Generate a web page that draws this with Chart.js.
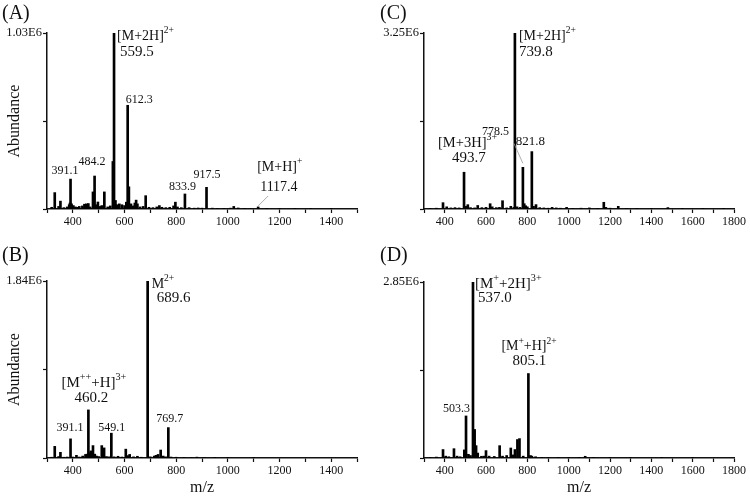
<!DOCTYPE html>
<html>
<head>
<meta charset="utf-8">
<script src="https://cdn.jsdelivr.net/npm/chart.js@4/dist/chart.umd.min.js"></script>
<style>
  body { margin: 0; background: #fff; }
  #wrap { position: relative; width: 750px; height: 500px; }
  .panel { position: absolute; width: 375px; height: 250px; }
  .tag { position: absolute; font: 20px "Liberation Serif", serif; color: #111; line-height: 20px; }
</style>
</head>
<body>
<div id="wrap">
  <div class="panel" style="left:0;top:0"><canvas id="chartA" width="375" height="250"></canvas></div>
  <div class="panel" style="left:375px;top:0"><canvas id="chartC" width="375" height="250"></canvas></div>
  <div class="panel" style="left:0;top:250px"><canvas id="chartB" width="375" height="250"></canvas></div>
  <div class="panel" style="left:375px;top:250px"><canvas id="chartD" width="375" height="250"></canvas></div>
  <div class="tag" style="left:2px;top:2px">(A)</div>
  <div class="tag" style="left:380px;top:2px">(C)</div>
  <div class="tag" style="left:2px;top:244px">(B)</div>
  <div class="tag" style="left:380px;top:244px">(D)</div>
</div>
<script>
// ---- data (m/z, abundance) ----
const aMz = [318, 330, 345, 352, 365, 378, 386, 389, 391.1, 395, 402, 410, 418, 425, 437, 445, 452, 460, 467, 478, 484.2, 490, 497, 505, 512, 522, 535, 545, 555, 559.5, 565, 572, 580, 590, 600, 607, 612.3, 617, 625, 633, 640, 645, 650, 660, 672, 682, 695, 710, 725, 735, 745, 760, 775, 790, 797, 805, 820, 833.9, 850, 870, 885, 900, 917.5, 940, 960, 985, 1010, 1023, 1040, 1065, 1090, 1117.4, 1150, 1200, 1260, 1320, 1400];
const aAbund = [10e3, 96e3, 15e3, 46e3, 8e3, 12e3, 25e3, 35e3, 175e3, 30e3, 20e3, 12e3, 10e3, 15e3, 18e3, 28e3, 30e3, 32e3, 12e3, 100e3, 193e3, 25e3, 41e3, 15e3, 20e3, 100e3, 12e3, 18e3, 278e3, 1030e3, 50e3, 25e3, 30e3, 25e3, 20e3, 40e3, 607e3, 130e3, 30e3, 18e3, 35e3, 52e3, 30e3, 12e3, 15e3, 78e3, 10e3, 8e3, 12e3, 20e3, 10e3, 8e3, 10e3, 18e3, 40e3, 12e3, 8e3, 88e3, 8e3, 5e3, 6e3, 5e3, 127e3, 5e3, 4e3, 4e3, 5e3, 15e3, 6e3, 4e3, 3e3, 12e3, 3e3, 3e3, 2e3, 2e3, 2e3];
const aTop = 1.03e6, aTopLabel = '1.03E6';

const bMz = [318, 330, 345, 352, 365, 378, 391.1, 400, 414, 425, 438, 449, 455, 460.2, 465, 470, 478, 485, 492, 500, 512, 521, 530, 540, 549.1, 560, 575, 590, 605, 612, 620, 635, 650, 665, 689.6, 700, 715, 722, 730, 740, 750, 760, 769.7, 780, 800, 830, 860, 880, 910, 950, 1000, 1100];
const bAbund = [8e3, 121e3, 15e3, 59e3, 8e3, 10e3, 199e3, 10e3, 28e3, 10e3, 20e3, 37e3, 40e3, 500e3, 55e3, 74e3, 129e3, 40e3, 20e3, 15e3, 129e3, 105e3, 15e3, 12e3, 258e3, 12e3, 18e3, 10e3, 92e3, 25e3, 37e3, 12e3, 18e3, 8e3, 1840e3, 12e3, 20e3, 28e3, 37e3, 83e3, 20e3, 12e3, 316e3, 10e3, 8e3, 6e3, 5e3, 9e3, 4e3, 3e3, 3e3, 2e3];
const bTop = 1.84e6, bTopLabel = '1.84E6';

const cMz = [330, 360, 392, 410, 430, 450, 470, 493.7, 505, 512, 525, 545, 560, 580, 600, 620, 630, 650, 665, 680, 700, 720, 735, 739.8, 750, 765, 778.5, 785, 792, 800, 821.8, 830, 842, 860, 880, 900, 920, 940, 960, 990, 1020, 1060, 1100, 1140, 1170, 1180, 1200, 1240, 1280, 1330, 1400, 1480, 1550, 1650, 1750];
const cAbund = [10e3, 15e3, 117e3, 40e3, 20e3, 25e3, 20e3, 679e3, 50e3, 80e3, 25e3, 20e3, 65e3, 25e3, 30e3, 98e3, 40e3, 25e3, 30e3, 153e3, 20e3, 49e3, 30e3, 3250e3, 40e3, 30e3, 770e3, 98e3, 60e3, 40e3, 1060e3, 50e3, 81e3, 25e3, 20e3, 15e3, 30e3, 20e3, 15e3, 30e3, 10e3, 15e3, 20e3, 10e3, 124e3, 30e3, 15e3, 49e3, 10e3, 8e3, 6e3, 26e3, 5e3, 4e3, 3e3];
const cTop = 3.25e6, cTopLabel = '3.25E6';

const dMz = [330, 360, 392, 405, 420, 445, 460, 475, 495, 503.3, 515, 525, 537.0, 545, 552, 560, 578, 590, 600, 615, 640, 666, 680, 700, 720, 730, 740, 752, 762, 780, 805.1, 815, 822, 840, 870, 900, 950, 1000, 1050, 1080, 1120, 1200, 1300, 1450, 1600];
const dAbund = [10e3, 15e3, 137e3, 30e3, 20e3, 151e3, 30e3, 20e3, 131e3, 681e3, 60e3, 40e3, 2850e3, 462e3, 200e3, 80e3, 28e3, 30e3, 120e3, 30e3, 25e3, 200e3, 30e3, 40e3, 162e3, 50e3, 137e3, 299e3, 314e3, 30e3, 1368e3, 40e3, 30e3, 20e3, 10e3, 8e3, 6e3, 5e3, 6e3, 28e3, 5e3, 4e3, 3e3, 3e3, 2e3];
const dTop = 2.85e6, dTopLabel = '2.85E6';

// peak notes: [peak m/z, text, superscript, text, superscript ...]
const aNotes = [[559.5, '[M+2H]', '2+'], [559.5, '559.5'], [612.3, '612.3'], [391.1, '391.1'], [484.2, '484.2'], [833.9, '833.9'], [917.5, '917.5'], [1117.4, '[M+H]', '+'], [1117.4, '1117.4']];
const bNotes = [[689.6, 'M', '2+'], [689.6, '689.6'], [460.2, '[M', '++', '+H]', '3+'], [460.2, '460.2'], [391.1, '391.1'], [549.1, '549.1'], [769.7, '769.7']];
const cNotes = [[739.8, '[M+2H]', '2+'], [739.8, '739.8'], [493.7, '[M+3H]', '3+'], [493.7, '493.7'], [778.5, '778.5'], [821.8, '821.8']];
const dNotes = [[537.0, '[M', '+', '+2H]', '3+'], [537.0, '537.0'], [805.1, '[M', '+', '+H]', '2+'], [805.1, '805.1'], [503.3, '503.3']];

// ---- layout of the notes: offset from peak top [dx, dy, font size] ----
const aNotePos = [[3, 3, 14], [6, 19, 15], [-2, -5, 12], [-19, -8, 12], [-16, -14, 12], [-16, -7, 12], [-13, -12, 12], [-1, -40, 14], [2, -20, 14]];
const bNotePos = [[4, 3, 14], [9, 17, 15], [-27, -27, 15], [-14, -12, 15], [-14, -11, 12], [-13, -5, 12], [-12, -9, 12]];
const cNotePos = [[4, 3, 14], [4, 19, 15], [-26, -29, 14.5], [-12, -14, 15], [-41, -35, 12], [-16, -10, 13]];
const dNotePos = [[2, 2, 15], [5, 16, 15], [-27, -27, 14], [-16, -12, 15], [-23, -7, 12]];
// leader lines [peak m/z, x1, y1, x2, y2] relative to peak top
const aLeaders = [[1117.4, 0, -1, 10, -11]];
const cLeaders = [[778.5, -9, -24, 0, -4]];

const FONT = '"Liberation Serif", "Times New Roman", serif';
const INK = '#111';

function peakTop(chart, mz) {
    const data = chart.data.datasets[0].data;
    const p = data.reduce((a, b) => Math.abs(b.x - mz) < Math.abs(a.x - mz) ? b : a);
    return [chart.scales.x.getPixelForValue(p.x), chart.scales.y.getPixelForValue(p.y)];
}

const peakNotes = {
    id: 'peakNotes',
    afterDatasetsDraw(chart, args, opts) {
        const ctx = chart.ctx;
        ctx.save();
        ctx.fillStyle = INK;
        ctx.textBaseline = 'middle';
        ctx.textAlign = 'left';
        opts.notes.forEach((note, i) => {
            const [mz, ...parts] = note;
            const [dx, dy, size] = opts.pos[i];
            let [px, py] = peakTop(chart, mz);
            px += dx; py += dy;
            parts.forEach((t, k) => {
                const sup = k % 2 == 1;
                ctx.font = (sup ? size * 0.68 : size) + 'px ' + FONT;
                ctx.fillText(t, px, sup ? py - size * 0.38 : py);
                px += ctx.measureText(t).width;
            });
        });
        ctx.strokeStyle = '#999';
        ctx.lineWidth = 0.8;
        (opts.leaders || []).forEach(([mz, x1, y1, x2, y2]) => {
            const [px, py] = peakTop(chart, mz);
            ctx.beginPath();
            ctx.moveTo(px + x1, py + y1);
            ctx.lineTo(px + x2, py + y2);
            ctx.stroke();
        });
        ctx.restore();
    }
};

function makeChart(p) {
    return new Chart(document.getElementById(p.id), {
        type: 'bar',
        data: {
            datasets: [{
                data: p.mz.map((m, i) => ({ x: m, y: p.abund[i] })),
                backgroundColor: '#000',
                barThickness: 2
            }]
        },
        options: {
            responsive: false,
            animation: false,
            layout: { padding: p.pad },
            plugins: {
                legend: { display: false },
                tooltip: { enabled: false },
                peakNotes: { notes: p.notes, pos: p.pos, leaders: p.leaders }
            },
            scales: {
                x: {
                    type: 'linear', min: 300, max: p.xMax, offset: false,
                    grid: { drawOnChartArea: false, offset: false, tickLength: 4, color: INK, tickWidth: 1.2 },
                    border: { color: INK, width: 1.5 },
                    ticks: {
                        stepSize: 100, autoSkip: false, maxRotation: 0, padding: 2, color: INK,
                        font: { family: FONT, size: 12 },
                        callback: v => v % 200 === 0 ? v : ''
                    },
                    title: { display: !!p.xTitle, text: 'm/z', color: INK, font: { family: FONT, size: 16 }, padding: { top: 0, bottom: 3 } },
                    afterFit: s => { s.height = p.xHeight; }
                },
                y: {
                    min: 0, max: p.top,
                    afterBuildTicks: s => { s.ticks = [{ value: 0 }, { value: p.top / 2 }, { value: p.top }]; },
                    grid: { drawOnChartArea: false, tickLength: 4, color: INK, tickWidth: 1.2 },
                    border: { color: INK, width: 1.5 },
                    ticks: {
                        padding: 1, color: INK, font: { family: FONT, size: 12.5 },
                        callback: v => v === p.top ? p.topLabel : ''
                    },
                    title: { display: !!p.yTitle, text: 'Abundance', color: INK, font: { family: FONT, size: 16 }, padding: { top: 5 } },
                    afterFit: s => { s.width = p.yWidth; }
                }
            }
        },
        plugins: [peakNotes]
    });
}

makeChart({ id: 'chartA', mz: aMz, abund: aAbund, top: aTop, topLabel: aTopLabel, xMax: 1500,
    pad: { top: 33, right: 18, left: 0, bottom: 0 }, yWidth: 47, xHeight: 41,
    notes: aNotes, pos: aNotePos, leaders: aLeaders, yTitle: true });
makeChart({ id: 'chartC', mz: cMz, abund: cAbund, top: cTop, topLabel: cTopLabel, xMax: 1800,
    pad: { top: 33, right: 16, left: 0, bottom: 0 }, yWidth: 49, xHeight: 41,
    notes: cNotes, pos: cNotePos, leaders: cLeaders });
makeChart({ id: 'chartB', mz: bMz, abund: bAbund, top: bTop, topLabel: bTopLabel, xMax: 1500,
    pad: { top: 31, right: 18, left: 0, bottom: 0 }, yWidth: 47, xHeight: 42,
    notes: bNotes, pos: bNotePos, yTitle: true, xTitle: true });
makeChart({ id: 'chartD', mz: dMz, abund: dAbund, top: dTop, topLabel: dTopLabel, xMax: 1800,
    pad: { top: 32, right: 16, left: 0, bottom: 0 }, yWidth: 49, xHeight: 42,
    notes: dNotes, pos: dNotePos, xTitle: true });
</script>
</body>
</html>
